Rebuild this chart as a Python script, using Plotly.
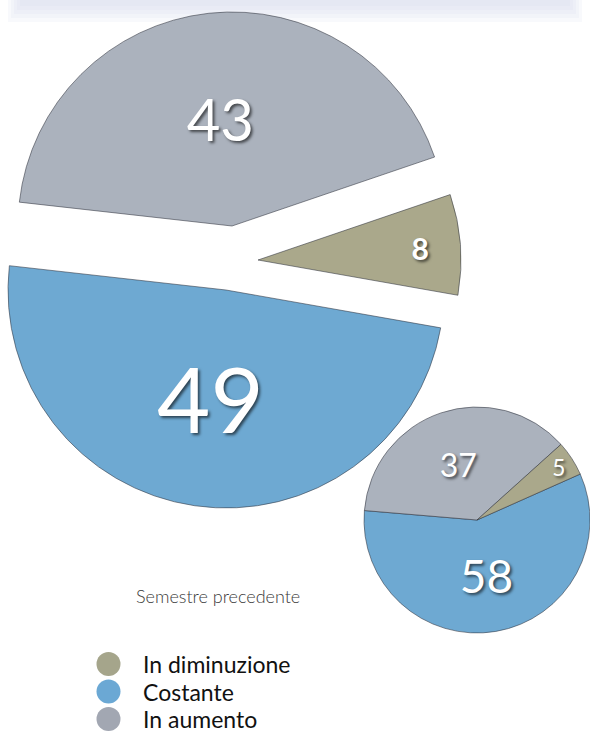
import plotly.graph_objects as go

# ---------------- data ----------------
slice_labels = ["Costante", "In aumento", "In diminuzione"]   # clockwise order in the pies
current_values = [49, 43, 8]                                   # big pie
previous_values = [58, 37, 5]                                  # small pie ("Semestre precedente")
legend_labels = ["In diminuzione", "Costante", "In aumento"]
subtitle = "Semestre precedente"

# ---------------- style ----------------
W, H = 590, 734
FONT = "Lato"
COLORS = {"Costante": "#6EA9D2", "In aumento": "#ABB2BD", "In diminuzione": "#AAA88B"}
LEGEND_COLORS = {"Costante": "#6BA8D4", "In aumento": "#A2A7B2", "In diminuzione": "#A5A58B"}
EDGE = "rgba(45,50,60,0.55)"
SHADOW = "2px 2px 3px rgba(0,0,0,0.6)"
CLEAR = "rgba(0,0,0,0)"

# exploded big pie: per-slice centre (px) and radius (px)
BIG_GEOM = {
    "Costante": (226, 290, 218),
    "In aumento": (232, 226, 214),
    "In diminuzione": (258, 260, 203),
}
BIG_FONT = {"Costante": 92, "In aumento": 58, "In diminuzione": 30}
SMALL_GEOM = (477, 520, 113)
SMALL_FONT = {"Costante": 46, "In aumento": 32, "In diminuzione": 28}


def dom(cx, cy, r):
    return dict(x=[(cx - r) / W, (cx + r) / W], y=[1 - (cy + r) / H, 1 - (cy - r) / H])


fig = go.Figure()

# big pie, one trace per exploded slice
for lab in slice_labels:
    fig.add_trace(go.Pie(
        labels=slice_labels,
        values=current_values,
        sort=False,
        direction="clockwise",
        rotation=100,
        domain=dom(*BIG_GEOM[lab]),
        marker=dict(
            colors=[COLORS[l] if l == lab else CLEAR for l in slice_labels],
            line=dict(color=[EDGE if l == lab else CLEAR for l in slice_labels], width=1),
        ),
        text=[(("<b>%d</b>" % v) if l == "In diminuzione" else str(v)) if l == lab else ""
              for l, v in zip(slice_labels, current_values)],
        textinfo="text",
        textposition="inside",
        insidetextorientation="horizontal",
        textfont=dict(family=FONT, color="white",
                      size=[BIG_FONT[l] for l in slice_labels], shadow=SHADOW),
        showlegend=False,
        hoverinfo="skip",
    ))

# small pie (previous semester)
fig.add_trace(go.Pie(
    labels=slice_labels,
    values=previous_values,
    sort=False,
    direction="clockwise",
    rotation=66,
    domain=dom(*SMALL_GEOM),
    marker=dict(colors=[COLORS[l] for l in slice_labels], line=dict(color=EDGE, width=1)),
    text=[str(v) for v in previous_values],
    textinfo="text",
    textposition="inside",
    insidetextorientation="horizontal",
    textfont=dict(family=FONT, color="white",
                  size=[SMALL_FONT[l] for l in slice_labels], shadow=SHADOW),
    showlegend=False,
    hoverinfo="label+value",
))

shapes = []
# soft band at the top
for h, inset in [(22, 8), (18, 11), (14, 14), (10, 17), (6, 20)]:
    shapes.append(dict(type="rect", xref="paper", yref="paper",
                       x0=inset / W, x1=1 - inset / W, y0=1 - h / H, y1=1,
                       fillcolor="rgba(214,220,236,0.16)", line=dict(width=0), layer="below"))

annotations = [dict(text=subtitle, x=218 / W, y=1 - 609 / H, xref="paper", yref="paper",
                    showarrow=False,
                    font=dict(family=FONT, size=18, weight=300, color="#3a3a3a"))]

# custom legend with round markers
for i, lab in enumerate(legend_labels):
    cy = 664 + i * 27.5
    cx, rad = 108.5, 12
    shapes.append(dict(type="circle", xref="paper", yref="paper",
                       x0=(cx - rad) / W, x1=(cx + rad) / W,
                       y0=1 - (cy + rad) / H, y1=1 - (cy - rad) / H,
                       fillcolor=LEGEND_COLORS[lab], line=dict(width=0)))
    annotations.append(dict(text=lab, x=141 / W, y=1 - cy / H, xref="paper", yref="paper",
                            xanchor="left", yanchor="middle", showarrow=False,
                            font=dict(family=FONT, size=23, color="#111111")))

fig.update_layout(
    width=W, height=H,
    margin=dict(l=0, r=0, t=0, b=0),
    paper_bgcolor="white", plot_bgcolor="white",
    shapes=shapes, annotations=annotations,
    showlegend=False,
)

fig.write_html("out.html")
